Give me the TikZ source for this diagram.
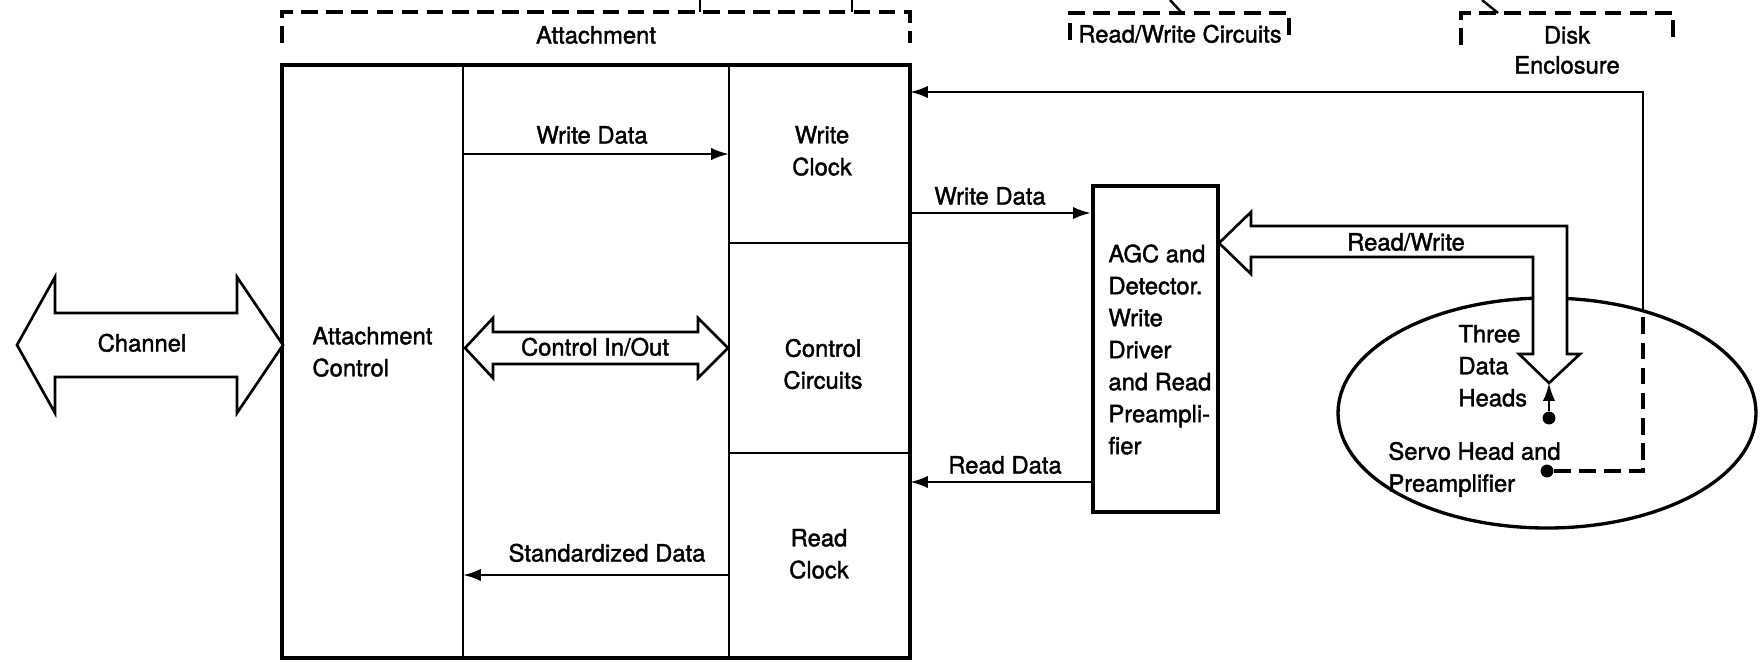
\documentclass[tikz,border=0pt]{standalone}
\usepackage{fontspec}
\setmainfont{TeX Gyre Heros}
\newfontfamily\hvm{TeX Gyre Heros}[FakeBold=1.6]
\usetikzlibrary{arrows.meta}
\begin{document}
\begin{tikzpicture}[x=0.45pt,y=-0.45pt,
  lbl/.style={font=\hvm\fontsize{10.7}{14.4}\selectfont, inner sep=0pt},
  blk/.style={lbl, align=center, anchor=north},
  lft/.style={lbl, align=left, anchor=north west},
  bl/.style={lbl, anchor=base},
  thinline/.style={line width=1.1pt},
  midline/.style={line width=1.3pt},
  boxline/.style={line width=1.9pt},
  dsh/.style={line width=1.6pt, dash pattern=on 7.5pt off 3.8pt},
  arr/.style={line width=1.1pt, -{Latex[length=8pt,width=5.5pt]}},
  fat/.style={line width=1.2pt, fill=white, line join=miter},
  dot/.style={circle, fill=black, inner sep=0pt, minimum size=5.8pt}]

\useasboundingbox (0,0) rectangle (1763,666);

% ---------- brackets at the top ----------
\draw[dsh] (282,43) -- (282,12) -- (910,12) -- (910,43);
\draw[thinline] (700,12) -- (700,0);
\draw[thinline] (852,12) -- (852,0);
\node[bl] (attlbl) at (596,43.5) {Attachment};

\draw[dsh] (1070,40) -- (1070,13) -- (1289,13) -- (1289,40);
\draw[thinline] (1182,13) -- (1170,0);
\node[bl] (rwclbl) at (1180,42.5) {Read/Write Circuits};

\draw[dsh] (1461,45) -- (1461,13) -- (1673,13) -- (1673,45);
\draw[thinline] (1498,13) -- (1482,0);
\node[bl] (disklbl) at (1567,43.5) {Disk};
\node[bl] (enclbl) at (1567,73.5) {Enclosure};

% ---------- attachment box ----------
\draw[boxline] (282,65) rectangle (910,658);
\draw[midline] (463,65) -- (463,658);
\draw[midline] (729,65) -- (729,658);
\draw[midline] (729,243) -- (910,243);
\draw[midline] (729,453) -- (910,453);

\node[lft] (actl) at (312,326.5) {Attachment\\Control};
\node[blk] (wclk) at (822,125.5) {Write\\Clock};
\node[blk] (ccirc) at (823,338.5) {Control\\Circuits};
\node[blk] (rclk) at (819,528.5) {Read\\Clock};

% internal connectors
\coordinate (wdiA) at (463,154);
\coordinate (wdiB) at (729,154);
\draw[arr] (wdiA) -- (wdiB);
\node[bl] (wdilbl) at (592,143.5) {Write Data};

\coordinate (sdA) at (729,575);
\coordinate (sdB) at (463,575);
\draw[arr] (sdA) -- (sdB);
\node[bl] (sdlbl) at (607,561.5) {Standardized Data};

% Control In/Out double arrow
\draw[fat] (465,348) -- (493,318) -- (493,332) -- (698,332) -- (698,318)
  -- (728,348) -- (698,378) -- (698,364) -- (493,364) -- (493,378) -- cycle;
\node[bl] (ciolbl) at (595,355.5) {Control In/Out};

% Channel double arrow
\draw[fat] (17,345) -- (55,277) -- (55,313) -- (237,313) -- (237,277)
  -- (283,345) -- (237,413) -- (237,377) -- (55,377) -- (55,413) -- cycle;
\node[bl] (chlbl) at (142,351.5) {Channel};

% ---------- AGC box ----------
\node[draw, boxline, minimum width=56.25pt, minimum height=146.7pt, inner sep=0pt]
  (agc) at (1155.5,349) {};
\node[lft] (agctxt) at (1108,244) {AGC and\\Detector.\\Write\\Driver\\and Read\\Preampli-\\fier};

\coordinate (wdoA) at (910,213);
\draw[arr] (wdoA) -- (wdoA -| agc.west);
\node[bl] (wdolbl) at (990,204.5) {Write Data};

\coordinate (rdoB) at (910,482);
\draw[arr] (rdoB -| agc.west) -- (rdoB);
\node[bl] (rdolbl) at (1005,473.5) {Read Data};

% ---------- disk enclosure ----------
\draw[line width=1.5pt] (1547,413) ellipse [x radius=209, y radius=115];

% Read/Write fat arrow
\draw[fat] (1219,243) -- (1251,212) -- (1251,226) -- (1567,226) -- (1567,354)
  -- (1580,354) -- (1549,383) -- (1519,354) -- (1533,354) -- (1533,257)
  -- (1251,257) -- (1251,274) -- cycle;
\node[bl] (rwlbl) at (1406,250.5) {Read/Write};

\node[lft] (heads) at (1458,324.5) {Three\\Data\\Heads};
\node[lft] (servotxt) at (1388,441.5) {Servo Head and\\Preamplifier};

\node[dot] (hdot) at (1549,418) {};
\coordinate (htip) at (1549,383);
\draw[arr] (hdot) -- (htip);

\node[dot] (sdot) at (1547,471) {};
\coordinate (fbCorner) at (1643,471);
\coordinate (fbEll) at (1643,311);
\coordinate (fbTop) at (1643,92);
\coordinate (fbIn) at (910,92);
\draw[dsh] (sdot) -- (fbCorner) -- (fbEll);
\draw[arr] (fbEll) -- (fbTop) -- (fbIn);

\end{tikzpicture}
\end{document}
